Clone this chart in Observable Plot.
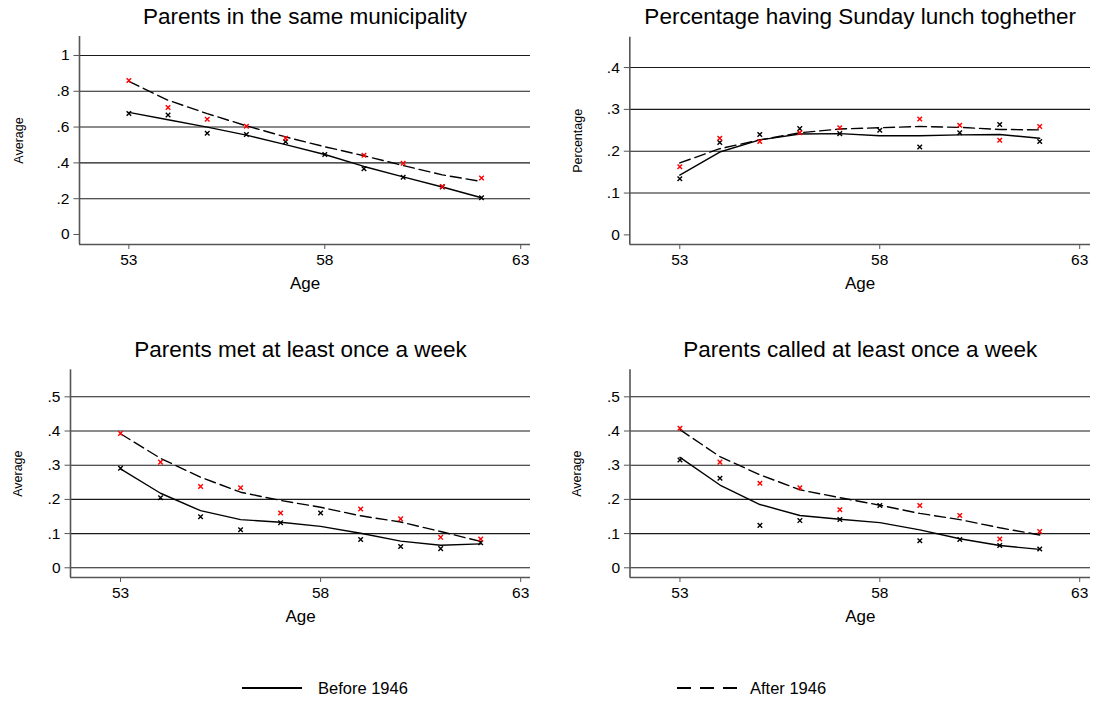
<!DOCTYPE html>
<html>
<head>
<meta charset="utf-8">
<script src="https://cdn.jsdelivr.net/npm/d3@7"></script>
<script src="https://cdn.jsdelivr.net/npm/@observablehq/plot@0.6"></script>
<style>
  html, body { margin: 0; padding: 0; background: #fff; }
  #root { position: relative; width: 1096px; height: 701px; background: #fff; font-family: "Liberation Sans", Arial, sans-serif; }
  .panel { position: absolute; width: 548px; height: 300px; }
  .legend { position: absolute; top: 676px; font-size: 16.5px; color: #000; display: flex; align-items: center; }
  .legend svg { margin-right: 16px; }
</style>
</head>
<body>
<div id="root">
  <div class="panel" id="p1" style="left:0px; top:0px;"></div>
  <div class="panel" id="p2" style="left:548px; top:0px;"></div>
  <div class="panel" id="p3" style="left:0px; top:330px;"></div>
  <div class="panel" id="p4" style="left:548px; top:330px;"></div>
  <div class="legend" style="left:242px;"><svg width="60" height="24"><line x1="0" x2="60" y1="12" y2="12" stroke="#000" stroke-width="2"/></svg><span>Before 1946</span></div>
  <div class="legend" style="left:677px;"><svg width="60" height="24"><line x1="0" x2="60" y1="12" y2="12" stroke="#000" stroke-width="2" stroke-dasharray="14,9"/></svg><span style="margin-left:-3px">After 1946</span></div>
</div>
<script>
// ---- data ----
const ages = [53, 54, 55, 56, 57, 58, 59, 60, 61, 62];
const xTicks = [53, 58, 63];
const seriesLabels = ["Before 1946", "After 1946"];

// Panel 1: Parents in the same municipality
const muniBefore = [0.676, 0.667, 0.566, 0.559, 0.518, 0.447, 0.367, 0.320, 0.266, 0.205];
const muniAfter  = [0.860, 0.709, 0.644, 0.605, 0.538, null, 0.443, 0.398, 0.268, 0.315];
const muniBeforeFit = [0.682, 0.641, 0.600, 0.555, 0.502, 0.447, 0.380, 0.322, 0.265, 0.205];
const muniAfterFit  = [0.855, 0.750, 0.675, 0.607, 0.545, 0.490, 0.440, 0.385, 0.333, 0.296];

// Panel 2: Percentage having Sunday lunch toghether
const lunchBefore = [0.134, 0.221, 0.240, 0.254, 0.242, 0.250, 0.210, 0.244, 0.264, 0.223];
const lunchAfter  = [0.163, 0.231, 0.223, 0.244, 0.256, null, 0.277, 0.262, 0.226, 0.259];
const lunchBeforeFit = [0.143, 0.198, 0.227, 0.241, 0.242, 0.237, 0.237, 0.239, 0.240, 0.231];
const lunchAfterFit  = [0.172, 0.206, 0.227, 0.244, 0.253, 0.256, 0.259, 0.257, 0.252, 0.251];

// Panel 3: Parents met at least once a week
const metBefore = [0.291, 0.205, 0.149, 0.111, 0.132, 0.160, 0.083, 0.062, 0.056, 0.073];
const metAfter  = [0.393, 0.309, 0.238, 0.234, 0.160, null, 0.172, 0.143, 0.089, 0.084];
const metBeforeFit = [0.289, 0.218, 0.167, 0.141, 0.133, 0.121, 0.101, 0.078, 0.066, 0.070];
const metAfterFit  = [0.392, 0.320, 0.265, 0.221, 0.197, 0.177, 0.152, 0.134, 0.106, 0.077];

// Panel 4: Parents called at least once a week
const callBefore = [0.315, 0.262, 0.124, 0.138, 0.141, 0.182, 0.079, 0.083, 0.065, 0.055];
const callAfter  = [0.408, 0.309, 0.247, 0.234, 0.170, null, 0.182, 0.153, 0.084, 0.106];
const callBeforeFit = [0.323, 0.242, 0.185, 0.153, 0.142, 0.132, 0.111, 0.085, 0.065, 0.054];
const callAfterFit  = [0.404, 0.325, 0.272, 0.228, 0.205, 0.183, 0.159, 0.141, 0.117, 0.096];

const titles = ["Parents in the same municipality", "Percentage having Sunday lunch toghether", "Parents met at least once a week", "Parents called at least once a week"];
const yLabels = ["Average", "Percentage", "Average", "Average"];
const yTicks1 = [0, 0.2, 0.4, 0.6, 0.8, 1];
const yTicks2 = [0, 0.1, 0.2, 0.3, 0.4];
const yTicks3 = [0, 0.1, 0.2, 0.3, 0.4, 0.5];

// ---- helpers ----
const stataFmt = d => d === 0 ? "0" : (d === 1 ? "1" : d3.format(".1f")(d).replace(/^0/, ""));

function panel(cfg) {
  const pts = (vals) => ages.map((a, i) => ({age: a, v: vals[i]})).filter(d => d.v != null);
  const [x0] = cfg.xDomain;
  const [y0] = cfg.yDomain;
  return Plot.plot({
    width: 548,
    height: 300,
    marginLeft: cfg.mL, marginRight: cfg.mR, marginTop: cfg.mT, marginBottom: cfg.mB,
    style: {fontFamily: '"Liberation Sans", Arial, sans-serif', fontSize: "15px", background: "#fff", color: "#000", overflow: "visible"},
    x: {domain: cfg.xDomain},
    y: {domain: cfg.yDomain},
    marks: [
      Plot.gridY(cfg.grid, {stroke: "#1a1a1a", strokeOpacity: 1, strokeWidth: 1.1}),
      Plot.ruleX([x0], {stroke: "#555", strokeWidth: 1.6}),
      Plot.ruleY([y0], {stroke: "#555", strokeWidth: 1.6}),
      Plot.axisY(cfg.yTicks, {tickSize: 5.5, tickPadding: 4.5, fontSize: 15.5, tickFormat: stataFmt, label: null, stroke: "#555"}),
      Plot.axisX(xTicks, {tickSize: 5, tickPadding: 4, fontSize: 15.5, tickFormat: d => String(d), label: null, stroke: "#555"}),
      Plot.line(pts(cfg.beforeFit), {x: "age", y: "v", stroke: "#000", strokeWidth: 1.4}),
      Plot.line(pts(cfg.afterFit), {x: "age", y: "v", stroke: "#000", strokeWidth: 1.4, strokeDasharray: "11,5"}),
      Plot.dot(pts(cfg.before), {x: "age", y: "v", symbol: "times", r: 2.2, stroke: "#000", strokeWidth: 1.4}),
      Plot.dot(pts(cfg.after), {x: "age", y: "v", symbol: "times", r: 2.2, stroke: "#ff0000", strokeWidth: 1.4}),
      Plot.text(["Age"], {frameAnchor: "bottom", dy: 39, fontSize: 17, lineAnchor: "middle", fill: "#000"}),
      Plot.text([cfg.yLabel], {frameAnchor: "left", dx: cfg.yLabelDx, rotate: -90, fontSize: 12.5, lineAnchor: "middle", textAnchor: "middle", fill: "#000"}),
      Plot.text([cfg.title], {frameAnchor: "top", dy: cfg.titleDy, fontSize: 22.5, lineAnchor: "middle", fill: "#000"})
    ]
  });
}

document.getElementById("p1").appendChild(panel({
  title: titles[0], yLabel: yLabels[0], yLabelDx: -61,
  mL: 79, mR: 18, mT: 36, mB: 56, titleDy: -20,
  xDomain: [51.74, 63.25], yDomain: [-0.056, 1.106],
  yTicks: yTicks1, grid: yTicks1.slice(1),
  before: muniBefore, after: muniAfter, beforeFit: muniBeforeFit, afterFit: muniAfterFit
}));
document.getElementById("p2").appendChild(panel({
  title: titles[1], yLabel: yLabels[1], yLabelDx: -52,
  mL: 81.3, mR: 6, mT: 36.7, mB: 56, titleDy: -20.7,
  xDomain: [51.75, 63.27], yDomain: [-0.023, 0.4725],
  yTicks: yTicks2, grid: yTicks2.slice(1),
  before: lunchBefore, after: lunchAfter, beforeFit: lunchBeforeFit, afterFit: lunchAfterFit
}));
document.getElementById("p3").appendChild(panel({
  title: titles[2], yLabel: yLabels[2], yLabelDx: -52.5,
  mL: 70, mR: 18, mT: 39.3, mB: 53, titleDy: -20.3,
  xDomain: [51.75, 63.245], yDomain: [-0.0284, 0.579],
  yTicks: yTicks3, grid: yTicks3,
  before: metBefore, after: metAfter, beforeFit: metBeforeFit, afterFit: metAfterFit
}));
document.getElementById("p4").appendChild(panel({
  title: titles[3], yLabel: yLabels[3], yLabelDx: -53,
  mL: 81.5, mR: 6, mT: 39.3, mB: 53, titleDy: -20.3,
  xDomain: [51.75, 63.27], yDomain: [-0.0284, 0.579],
  yTicks: yTicks3, grid: yTicks3,
  before: callBefore, after: callAfter, beforeFit: callBeforeFit, afterFit: callAfterFit
}));
</script>
</body>
</html>
